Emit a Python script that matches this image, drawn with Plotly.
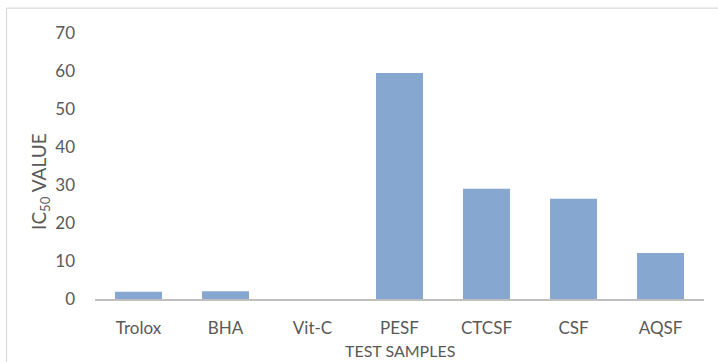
import plotly.graph_objects as go

categories = ["Trolox", "BHA", "Vit-C", "PESF", "CTCSF", "CSF", "AQSF"]
ic50_values = [1.9, 2.05, 0.0, 59.5, 29.0, 26.4, 12.1]
y_ticks = [0, 10, 20, 30, 40, 50, 60, 70]

W, H = 718, 362
ml, mr, mt, mb = 95, 14, 32.5, 62.5

fig = go.Figure(go.Bar(
    x=categories, y=ic50_values,
    marker=dict(color="#85a7d0", line=dict(width=0)),
    width=0.54,
))

font_family = "Lato, 'Liberation Sans', sans-serif"
fig.update_layout(
    width=W, height=H,
    margin=dict(l=ml, r=mr, t=mt, b=mb),
    plot_bgcolor="white", paper_bgcolor="white",
    showlegend=False,
    font=dict(family=font_family, color="#595959", size=17),
    xaxis=dict(
        showline=True, linecolor="#bfbfbf", linewidth=1.5,
        ticks="", showgrid=False, tickfont=dict(size=17, color="#595959"),
        ticklabelstandoff=13,
    ),
    yaxis=dict(
        range=[0, 70], tickvals=y_ticks, showgrid=False, zeroline=False,
        showline=False, ticks="", tickfont=dict(size=17, color="#595959"),
        ticklabelstandoff=19,
    ),
    annotations=[
        dict(text="IC<sub>50</sub> VALUE", textangle=-90, xref="paper", yref="paper",
             x=-(ml - 40) / (W - ml - mr), y=(H - mb - 182) / (H - mt - mb),
             showarrow=False, font=dict(size=19, color="#595959"),
             xanchor="center", yanchor="middle"),
        dict(text="TEST SAMPLES", xref="paper", yref="paper",
             x=0.5, y=-(351 - (H - mb)) / (H - mt - mb),
             showarrow=False, font=dict(size=16, color="#595959"),
             xanchor="center", yanchor="middle"),
    ],
    shapes=[
        dict(type="line", xref="paper", yref="paper",
             x0=-(ml - 6.5) / (W - ml - mr), x1=-(ml - 6.5) / (W - ml - mr),
             y0=(H - mb - 7.5) / (H - mt - mb), y1=-(mb + 5) / (H - mt - mb),
             line=dict(color="#d9d9d9", width=1.2)),
        dict(type="line", xref="paper", yref="paper",
             x0=-(ml - 6.5) / (W - ml - mr), x1=(W - ml + 5) / (W - ml - mr),
             y0=(H - mb - 7.5) / (H - mt - mb), y1=(H - mb - 7.5) / (H - mt - mb),
             line=dict(color="#d9d9d9", width=1.2)),
    ],
)

fig.write_html("out.html", config={"displayModeBar": False},
               post_script="document.body.style.margin='0';document.body.style.overflow='hidden';")
